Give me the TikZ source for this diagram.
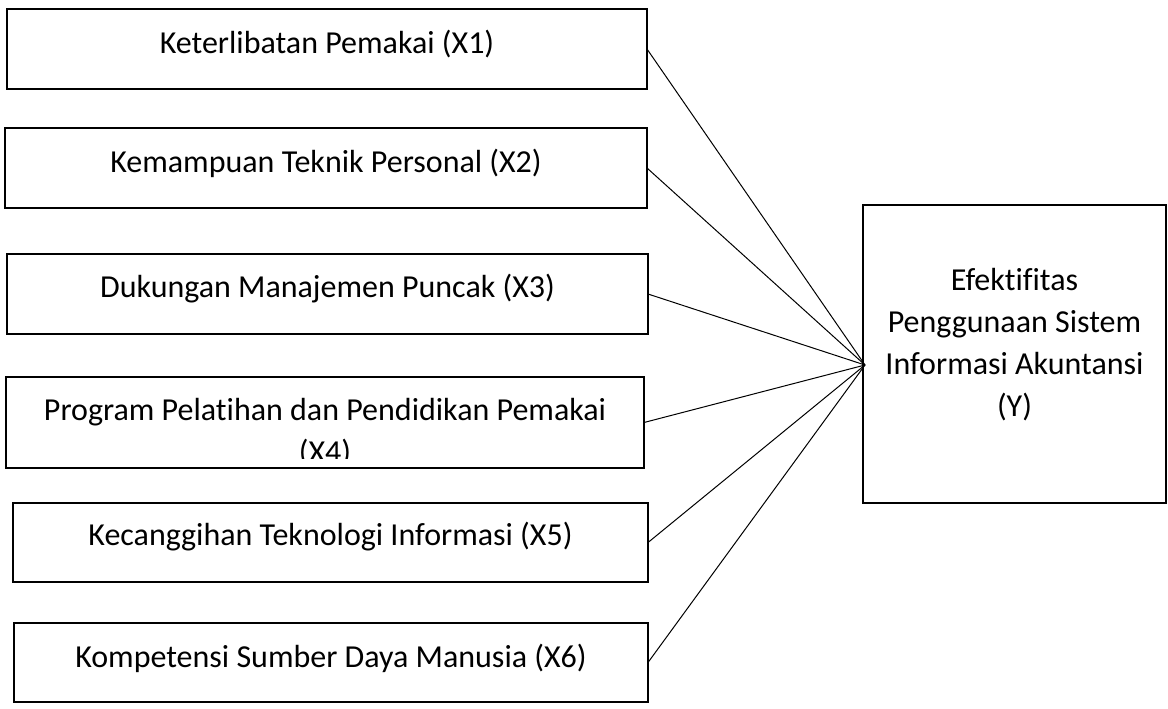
\documentclass[tikz,border=0pt]{standalone}
\usepackage{fontspec}
\setmainfont{Carlito}[Ligatures=NoCommon]
\begin{document}
\begin{tikzpicture}[x=0.5pt,y=-0.5pt,
        box/.style={draw,line width=1.2pt,inner sep=0pt,outer sep=0pt},
        lbl/.style={inner sep=0pt,font=\fontsize{16}{21}\selectfont},
        link/.style={line width=0.5pt}]
        \useasboundingbox (0,0) rectangle (1168,708);
        % variabel bebas
        \node[box,minimum width=320pt,minimum height=40pt] (x1) at (327,49) {};
        \node[box,minimum width=321pt,minimum height=40pt] (x2) at (326,168) {};
        \node[box,minimum width=320.5pt,minimum height=40pt] (x3) at (327.5,294) {};
        \node[box,minimum width=319pt,minimum height=45.5pt] (x4) at (325,422.5) {};
        \node[box,minimum width=317.5pt,minimum height=39.5pt] (x5) at (330.5,542.5) {};
        \node[box,minimum width=317pt,minimum height=39.5pt] (x6) at (331,662.5) {};
        \node[lbl,anchor=base] (tx1) at (327,53) {Keterlibatan Pemakai (X1)};
        \node[lbl,anchor=base] (tx2) at (326,172) {Kemampuan Teknik Personal (X2)};
        \node[lbl,anchor=base] (tx3) at (327.5,297) {Dukungan Manajemen Puncak (X3)};
        \begin{scope}
            \clip (6,377) rectangle (644,458);
            \node[lbl,align=center] (tx4) at (325,433) {Program Pelatihan dan Pendidikan Pemakai\\(X4)};
        \end{scope}
        \node[lbl,anchor=base] (tx5) at (330.5,545) {Kecanggihan Teknologi Informasi (X5)};
        \node[lbl,anchor=base] (tx6) at (331,667) {Kompetensi Sumber Daya Manusia (X6)};
        % variabel terikat
        \node[box,minimum width=151.5pt,minimum height=149pt] (y) at (1014.5,354) {};
        \node[lbl,align=center] (ty) at (1014.5,345) {Efektifitas\\Penggunaan Sistem\\Informasi Akuntansi\\(Y)};
        \coordinate (hub) at (865,365);
        \foreach \i in {1,...,6}
            \draw[link] (x\i.east) -- (hub);
    \end{tikzpicture}
\end{document}
